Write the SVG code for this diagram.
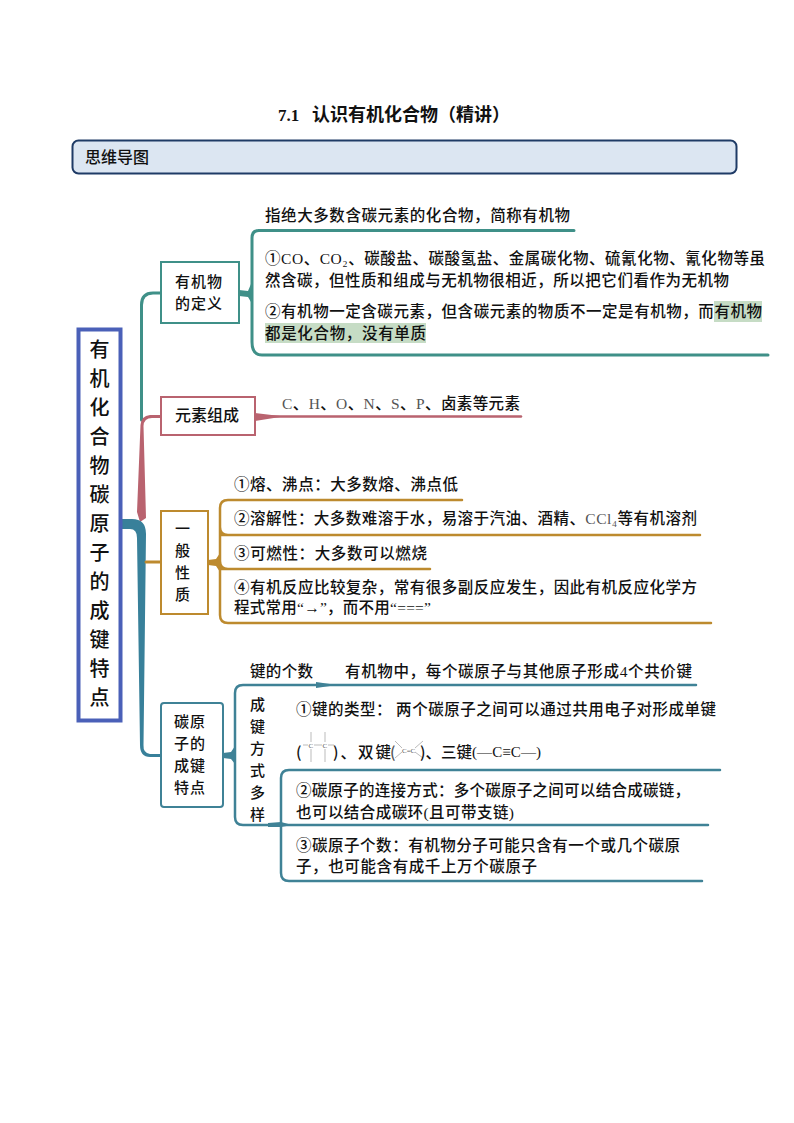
<svg xmlns="http://www.w3.org/2000/svg" width="794" height="1123" viewBox="0 0 794 1123">
<style>
text{font-family:"Noto Sans CJK SC","Liberation Sans",sans-serif;font-size:15.5px;font-weight:500;fill:#111}
.l{font-family:"Liberation Serif","Noto Sans CJK SC",serif}
.g{fill:#555}
.c{text-anchor:middle;font-size:15px;letter-spacing:1px}
.r{text-anchor:middle;font-size:20px}
.box{fill:#fff;stroke-width:2}
.ln{fill:none;stroke-width:2.5;stroke-linecap:round;stroke-linejoin:round}
.t{stroke:#3f9088}
.p{stroke:#b9636f}
.o{stroke:#bd8a2e}
.b{stroke:#3f8296}
.m{fill:none;stroke:#bbb;stroke-width:1}
.hl{fill:#c6dcc5}
</style>
<rect width="794" height="1123" fill="#fff"/>

<g id="title">
<text class="l" x="278" y="121" style="font-size:17px;font-weight:700">7.1</text>
<text x="312" y="121" style="font-size:18px;font-weight:700" textLength="198">认识有机化合物（精讲）</text>
</g>

<g id="banner">
<rect x="72.500" y="140.500" width="664" height="33" rx="6" fill="#dce6f2" stroke="#1f3b66" stroke-width="2"/>
<text x="85" y="163" style="font-size:16px">思维导图</text>
</g>

<g id="connectors">
<path class="ln t" d="M141.500 420V305Q141.500 293 153 293H162" style="stroke-width:3"/>
<path d="M137 512L140.500 425Q141 416 150 415H161V418H152Q144 418 143.500 426L146 518L140 522Z" fill="#b9636f"/>
<path d="M122 519H132Q146 519 146 534L143.500 745Q143 753 150 754H161V757H150Q140 757 140 745L137 538Q137 529 130 529H122Z" fill="#38809a"/>
<path class="ln o" d="M146 562H162" style="stroke-width:3"/>

<path class="ln t" d="M258 230.500H574M252 342V238Q252 230.500 259 230.500M252 342Q252 355 262 355H768" style="stroke-width:3"/>
<path d="M239 290L248 291L251 284V302L248 297L239 296Z" fill="#3f9088"/>

<path class="ln p" d="M270 416.500H521"/>
<path d="M255 413L280 416V417L255 421Z" fill="#b9636f"/>

<path class="ln o" d="M220 508Q220 500 228 500H462M220 535H700M220 569H430M220 615Q220 623 228 623H711M220 508V615M220 527Q220 535 228 535M220 561Q220 569 228 569"/>
<path d="M208 560L216 559L220 553V572L216 566L208 565Z" fill="#bd8a2e"/>

<path class="ln b" d="M235 693Q235 685 243 685H696M235 693V817Q235 825 243 825H708M281 778Q281 770 289 770H720M281 778V873Q281 881 289 881H702"/>
<path d="M316 682L330 684V686L316 688Z" fill="#3f8296"/>
<path d="M223 753L231 752L235 746V764L231 759L223 758Z" fill="#3f8296"/>
<path d="M268 823L281 822L292 825L281 827L268 827Z" fill="#3f8296"/>
</g>

<g id="root">
<rect x="78.500" y="329.500" width="42" height="391" fill="#fff" stroke="#4a60b8" stroke-width="4"/>
<text class="r" x="99.500" y="357">有</text><text class="r" x="99.500" y="386">机</text><text class="r" x="99.500" y="415">化</text><text class="r" x="99.500" y="444">合</text><text class="r" x="99.500" y="473">物</text><text class="r" x="99.500" y="502">碳</text><text class="r" x="99.500" y="531">原</text><text class="r" x="99.500" y="560">子</text><text class="r" x="99.500" y="589">的</text><text class="r" x="99.500" y="618">成</text><text class="r" x="99.500" y="647">键</text><text class="r" x="99.500" y="676">特</text><text class="r" x="99.500" y="705">点</text>
</g>

<g id="node-definition">
<rect class="box t" x="161" y="262" width="78" height="61"/>
<text class="c" x="199" y="287">有机物</text><text class="c" x="199" y="309">的定义</text>
<rect class="hl" x="714" y="301" width="48" height="21"/>
<rect class="hl" x="265" y="323" width="161" height="20"/>
<text x="265" y="221" textLength="305">指绝大多数含碳元素的化合物，简称有机物</text>
<text x="265" y="264" textLength="500">①<tspan class="l">CO</tspan>、<tspan class="l">CO₂</tspan>、碳酸盐、碳酸氢盐、金属碳化物、硫氰化物、氰化物等虽</text>
<text x="265" y="286" textLength="464">然含碳，但性质和组成与无机物很相近，所以把它们看作为无机物</text>
<text x="265" y="317" textLength="497">②有机物一定含碳元素，但含碳元素的物质不一定是有机物，而有机物</text>
<text x="265" y="339" textLength="161">都是化合物，没有单质</text>
</g>

<g id="node-elements">
<rect class="box p" x="161" y="397" width="94" height="38"/>
<text class="c" x="207" y="421" style="font-size:16px;letter-spacing:0">元素组成</text>
<text x="282" y="408.500" textLength="238"><tspan class="l g">C</tspan>、<tspan class="l g">H</tspan>、<tspan class="l g">O</tspan>、<tspan class="l g">N</tspan>、<tspan class="l g">S</tspan>、<tspan class="l g">P</tspan>、卤素等元素</text>
</g>

<g id="node-properties">
<rect class="box o" x="161" y="511" width="47" height="103"/>
<text class="c" x="183" y="534">一</text><text class="c" x="183" y="556">般</text><text class="c" x="183" y="578">性</text><text class="c" x="183" y="600">质</text>
<text x="234" y="490" textLength="224">①熔、沸点：大多数熔、沸点低</text>
<text x="234" y="524" textLength="463">②溶解性：大多数难溶于水，易溶于汽油、酒精、<tspan class="l g">CCl₄</tspan>等有机溶剂</text>
<text x="234" y="559" textLength="193">③可燃性：大多数可以燃烧</text>
<text x="234" y="593" textLength="463">④有机反应比较复杂，常有很多副反应发生，因此有机反应化学方</text>
<text x="234" y="613" textLength="197">程式常用<tspan class="l">“→”</tspan>，而不用<tspan class="l">“===”</tspan></text>
</g>

<g id="node-bonding">
<rect class="box b" x="161" y="703" width="62" height="104" rx="3"/>
<text class="c" x="190" y="727">碳原</text><text class="c" x="190" y="749">子的</text><text class="c" x="190" y="771">成键</text><text class="c" x="190" y="793">特点</text>
<text x="250" y="677" textLength="63">键的个数</text>
<text x="345" y="677" textLength="347">有机物中，每个碳原子与其他原子形成<tspan class="l">4</tspan>个共价键</text>
<text class="c" x="258" y="710">成</text><text class="c" x="258" y="732">键</text><text class="c" x="258" y="754">方</text><text class="c" x="258" y="776">式</text><text class="c" x="258" y="798">多</text><text class="c" x="258" y="820">样</text>
<text x="296" y="715" textLength="420">①键的类型：  两个碳原子之间可以通过共用电子对形成单键</text>
<text x="296" y="758">(</text>
<path class="m" d="M303 745H308M314 745H322M328 745H334M311 732V742M325 732V742M311 749V762M325 749V762"/>
<text class="l g" x="308.500" y="748" style="font-size:7px">C</text><text class="l g" x="322.500" y="748" style="font-size:7px">C</text>
<text x="333" y="758" textLength="58">)、双键</text>
<text x="390" y="758" class="g">(</text>
<path class="m" d="M395 741L402 748M395 758L402 752M415 748L423 741M415 752L423 758"/>
<text class="l g" x="402" y="753" style="font-size:7px">C=C</text>
<text x="420" y="758" textLength="52">)、三键</text>
<text class="l" x="472" y="757" textLength="69" style="font-size:15px">(—C≡C—)</text>
<text x="296" y="796" textLength="394">②碳原子的连接方式：多个碳原子之间可以结合成碳链，</text>
<text x="296" y="818" textLength="218">也可以结合成碳环<tspan class="l">(</tspan>且可带支链<tspan class="l">)</tspan></text>
<text x="296" y="851" textLength="384">③碳原子个数：有机物分子可能只含有一个或几个碳原</text>
<text x="296" y="872" textLength="241">子，也可能含有成千上万个碳原子</text>
</g>
</svg>
